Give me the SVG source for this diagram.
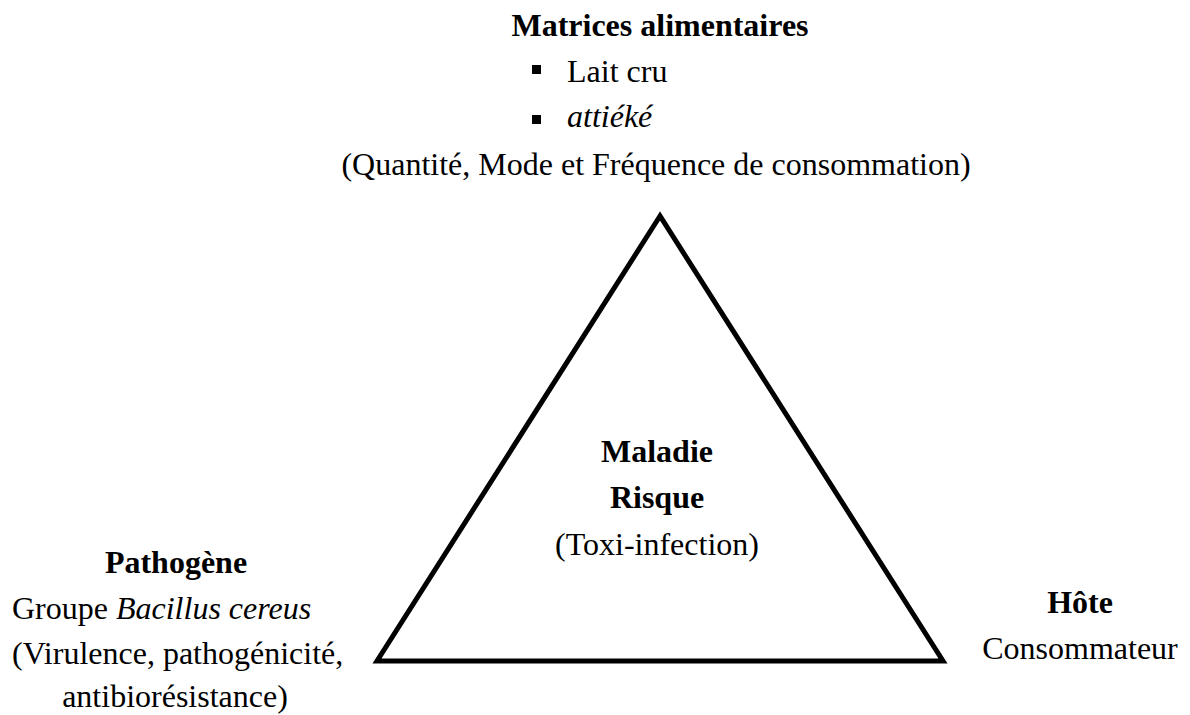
<svg xmlns="http://www.w3.org/2000/svg" width="1190" height="715" viewBox="0 0 1190 715">
  <style>
    text { font-family: "Liberation Serif", "Times New Roman", serif; font-size: 32px; fill: #000; }
    .b { font-weight: bold; }
    .i { font-style: italic; }
    .c { text-anchor: middle; }
    .tri { fill: none; stroke: #000; stroke-width: 5; stroke-linejoin: miter; }
  </style>
  <rect width="1190" height="715" fill="#fff"/>

  <!-- epidemiological triangle -->
  <g id="connectors">
    <polygon class="tri" points="660,216 377,661 943,661"/>
  </g>

  <!-- top vertex: food matrices -->
  <g id="node-matrices">
    <text class="b c" x="660" y="36">Matrices alimentaires</text>
    <rect x="532" y="65" width="9" height="9"/>
    <text x="567" y="82">Lait cru</text>
    <rect x="532" y="115" width="9" height="9"/>
    <text class="i" x="567" y="127">attiéké</text>
    <text class="c" x="656" y="175">(Quantité, Mode et Fréquence de consommation)</text>
  </g>

  <!-- centre: disease / risk -->
  <g id="node-maladie">
    <text class="b c" x="657" y="462">Maladie</text>
    <text class="b c" x="657" y="508">Risque</text>
    <text class="c" x="657" y="555">(Toxi-infection)</text>
  </g>

  <!-- bottom-left vertex: pathogen -->
  <g id="node-pathogene">
    <text class="b c" x="176" y="573">Pathogène</text>
    <text x="12" y="619">Groupe <tspan class="i">Bacillus cereus</tspan></text>
    <text x="12" y="664">(Virulence, pathogénicité,</text>
    <text class="c" x="175" y="707">antibiorésistance)</text>
  </g>

  <!-- bottom-right vertex: host -->
  <g id="node-hote">
    <text class="b c" x="1080" y="613">Hôte</text>
    <text class="c" x="1080" y="659">Consommateur</text>
  </g>
</svg>
